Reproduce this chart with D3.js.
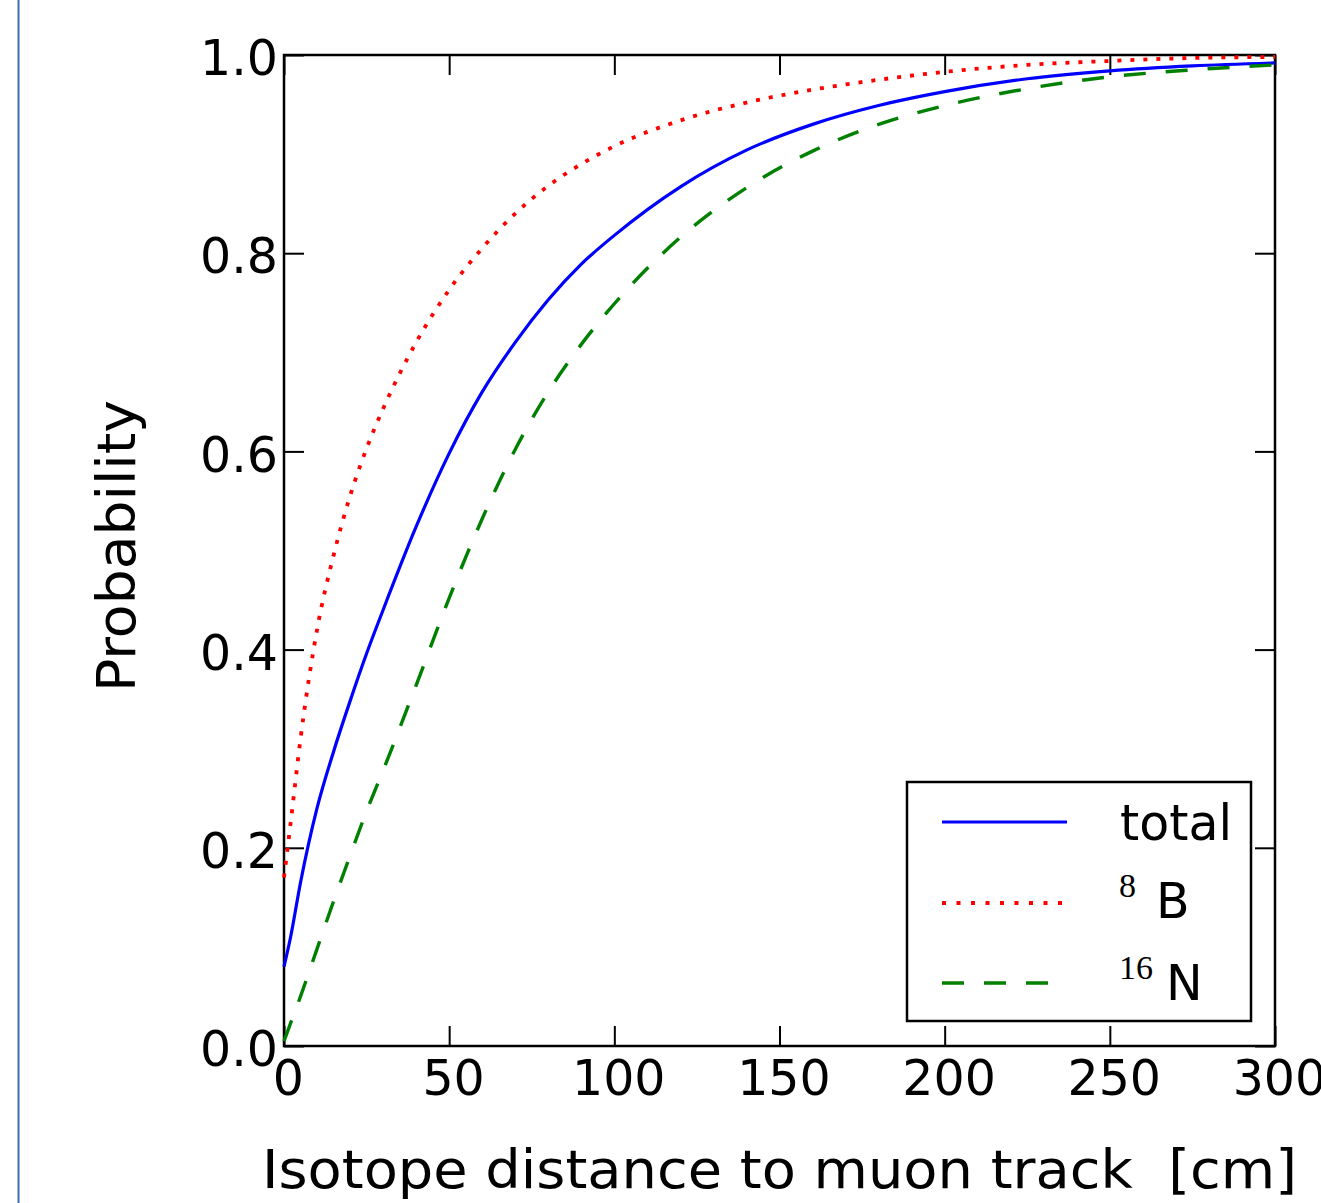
<!DOCTYPE html>
<html>
<head>
<meta charset="utf-8">
<script src="https://cdn.jsdelivr.net/npm/d3@7"></script>
<style>
  html, body { margin: 0; padding: 0; background: #fff; }
  svg { display: block; font-family: "DejaVu Sans", sans-serif; }
</style>
</head>
<body>
<div id="chart"></div>
<script>
/** distance to muon track [cm] */
const distance = [0, 2, 5, 10, 15, 20, 25, 30, 40, 50, 60, 70, 80, 90, 100, 120, 140, 160, 180, 200, 225, 250, 275, 300];
/** cumulative probability */
const total = [0.08, 0.11, 0.165, 0.24, 0.297, 0.348, 0.396, 0.44, 0.524, 0.598, 0.66, 0.71, 0.753, 0.789, 0.818, 0.867, 0.904, 0.93, 0.949, 0.963, 0.976, 0.984, 0.989, 0.992];
const boron = [0.17, 0.225, 0.31, 0.42, 0.495, 0.555, 0.603, 0.643, 0.71, 0.763, 0.805, 0.84, 0.868, 0.89, 0.908, 0.934, 0.952, 0.965, 0.975, 0.983, 0.99, 0.994, 0.997, 0.998];
const nitrogen = [0.005, 0.023, 0.05, 0.098, 0.146, 0.192, 0.237, 0.278, 0.364, 0.452, 0.532, 0.602, 0.66, 0.708, 0.749, 0.816, 0.866, 0.903, 0.93, 0.949, 0.966, 0.978, 0.985, 0.99];

const xTicks = [0, 50, 100, 150, 200, 250, 300];
const yTicks = [0, 0.2, 0.4, 0.6, 0.8, 1.0];

const series = [
  { name: "total", sup: "", values: total, color: "#0000ff", dash: null, lw: 3.2 },
  { name: "B", sup: "8", values: boron, color: "#ff0000", dash: "4,9", lw: 3.8 },
  { name: "N", sup: "16", values: nitrogen, color: "#008000", dash: "22,20", lw: 3.4 },
];

const width = 1321;
const height = 1203;
const margin = { left: 284, top: 55, right: 46, bottom: 157 };

const svg = d3
  .select("#chart")
  .append("svg")
  .attr("width", width)
  .attr("height", height);

/** page border on the left */
svg
  .append("line")
  .attr("x1", 18.5)
  .attr("x2", 18.5)
  .attr("y1", 0)
  .attr("y2", height)
  .attr("stroke", "#3d6eb2")
  .attr("stroke-width", 2);

/** scales */
const xScale = d3
  .scaleLinear()
  .domain([0, 300])
  .range([margin.left, width - margin.right]);
const yScale = d3
  .scaleLinear()
  .domain([0, 1])
  .range([height - margin.bottom, margin.top]);

const fontSize = 49;

/** axes, ticks pointing inward on all four sides */
const styleAxis = (g) => {
  g.select(".domain").remove();
  g.selectAll(".tick line").attr("stroke", "#000").attr("stroke-width", 2);
  g.selectAll(".tick text")
    .attr("fill", "#000")
    .attr("font-size", fontSize)
    .attr("font-family", "DejaVu Sans");
};

svg
  .append("g")
  .attr("transform", `translate(0, ${yScale(0)})`)
  .call(
    d3.axisBottom(xScale).tickValues(xTicks).tickSizeInner(-20).tickSizeOuter(0).tickPadding(14)
  )
  .call(styleAxis)
  .call((g) => g.selectAll(".tick text").attr("dx", "0.08em"));

svg
  .append("g")
  .attr("transform", `translate(0, ${yScale(1)})`)
  .call(
    d3.axisTop(xScale).tickValues(xTicks).tickSizeInner(-20).tickSizeOuter(0).tickFormat("")
  )
  .call(styleAxis);

svg
  .append("g")
  .attr("transform", `translate(${xScale(0)}, 0)`)
  .call(
    d3.axisLeft(yScale).tickValues(yTicks).tickSizeInner(-20).tickSizeOuter(0).tickPadding(6).tickFormat(d3.format(".1f"))
  )
  .call(styleAxis)
  .call((g) => g.selectAll(".tick text").attr("dy", "0.4em"));

svg
  .append("g")
  .attr("transform", `translate(${xScale(300)}, 0)`)
  .call(
    d3.axisRight(yScale).tickValues(yTicks).tickSizeInner(-20).tickSizeOuter(0).tickFormat("")
  )
  .call(styleAxis);

/** frame */
svg
  .append("rect")
  .attr("x", xScale(0))
  .attr("y", yScale(1))
  .attr("width", xScale(300) - xScale(0))
  .attr("height", yScale(0) - yScale(1))
  .attr("fill", "none")
  .attr("stroke", "#000")
  .attr("stroke-width", 2.5);

/** curves */
const line = d3
  .line()
  .curve(d3.curveMonotoneX)
  .x((d) => xScale(d[0]))
  .y((d) => yScale(d[1]));

for (const { values, color, dash, lw } of series) {
  svg
    .append("path")
    .attr("d", line(d3.zip(distance, values)))
    .attr("fill", "none")
    .attr("stroke", color)
    .attr("stroke-width", lw)
    .attr("stroke-dasharray", dash);
}

/** axis labels */
svg
  .append("text")
  .text("Isotope distance to muon track  [cm]")
  .attr("x", 262)
  .attr("y", 1188)
  .attr("font-size", 54)
  .attr("textLength", 1035)
  .attr("lengthAdjust", "spacingAndGlyphs")
  .style("white-space", "pre")
  .attr("fill", "#000");

svg
  .append("text")
  .text("Probability")
  .attr("transform", "translate(135, 692) rotate(-90)")
  .attr("font-size", 54)
  .attr("textLength", 292)
  .attr("lengthAdjust", "spacingAndGlyphs")
  .attr("fill", "#000");

/** legend */
const legend = svg.append("g");
legend
  .append("rect")
  .attr("x", 907)
  .attr("y", 782)
  .attr("width", 344)
  .attr("height", 239)
  .attr("fill", "#fff")
  .attr("stroke", "#000")
  .attr("stroke-width", 2.5);

const rowY = [822, 903, 983];
const textY = [840, 918, 1000];
series.forEach(({ name, sup, color, dash, lw }, i) => {
  legend
    .append("line")
    .attr("x1", 942)
    .attr("x2", 1067)
    .attr("y1", rowY[i])
    .attr("y2", rowY[i])
    .attr("stroke", color)
    .attr("stroke-width", lw)
    .attr("stroke-dasharray", sup === "8" ? "4,10.5" : dash);
  if (sup) {
    legend
      .append("text")
      .text(sup)
      .attr("x", 1119)
      .attr("y", textY[i] - 21)
      .attr("font-family", "Liberation Serif, DejaVu Serif, serif")
      .attr("font-size", 34)
      .attr("fill", "#000");
  }
  legend
    .append("text")
    .text(name)
    .attr("x", sup ? (sup.length > 1 ? 1166 : 1156) : 1120)
    .attr("y", textY[i])
    .attr("font-size", fontSize)
    .attr("fill", "#000");
});
</script>
</body>
</html>
